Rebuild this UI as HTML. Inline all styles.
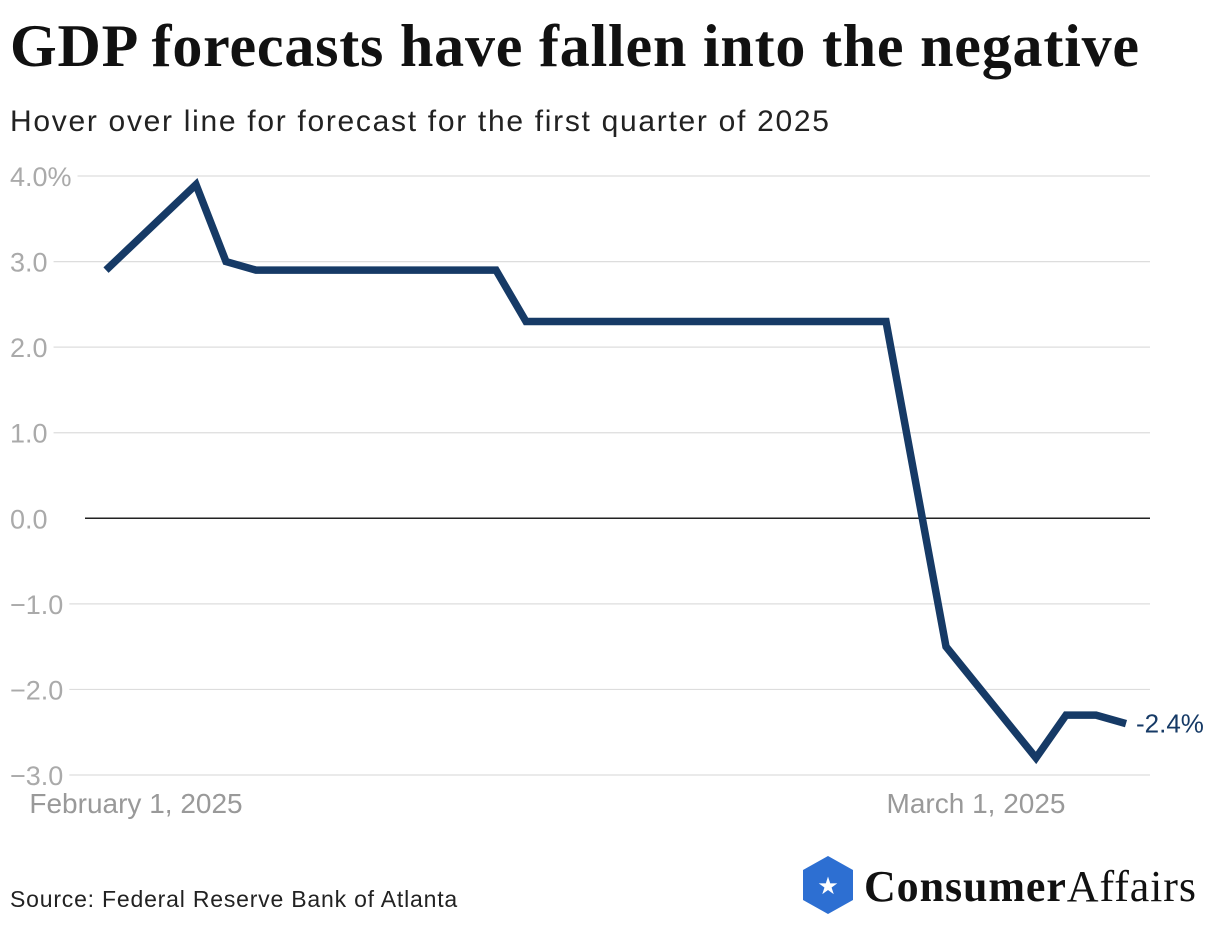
<!DOCTYPE html>
<html><head><meta charset="utf-8"><style>
html,body{margin:0;padding:0;background:#fff;width:1220px;height:926px;overflow:hidden}
.t{position:absolute;left:10px;top:12px;font-family:"Liberation Serif",serif;font-size:60px;color:#111;letter-spacing:0.8px;margin:0;font-weight:bold;white-space:nowrap}
.s{position:absolute;left:10px;top:105px;font-family:"Liberation Sans",sans-serif;font-size:30px;letter-spacing:1.7px;color:#222;white-space:nowrap}
.src{position:absolute;left:10px;top:886px;font-family:"Liberation Sans",sans-serif;font-size:23px;letter-spacing:0.8px;color:#222}
svg{position:absolute;left:0;top:0}
</style></head><body>
<h1 class="t">GDP forecasts have fallen into the negative</h1>
<div class="s">Hover over line for forecast for the first quarter of 2025</div>
<div class="src">Source: Federal Reserve Bank of Atlanta</div>
<svg id="chart" width="1220" height="926"></svg>
<svg width="1220" height="926" style="pointer-events:none">
<polygon points="828,856 853,870 853,900 828,914 803,900 803,870" fill="#2d6fd2"/>
<text x="828" y="894" text-anchor="middle" fill="#fff" font-size="24" font-family="DejaVu Sans">★</text>
<text x="864" y="901" font-family="Liberation Serif,serif" font-size="44" letter-spacing="0.9" fill="#111"><tspan font-weight="bold">Consumer</tspan><tspan>Affairs</tspan></text>
</svg>
<script>
const days=[0,3,4,5,13,14,26,28,31,32,33,34];
const values=[2.9,3.9,3.0,2.9,2.9,2.3,2.3,-1.5,-2.8,-2.3,-2.3,-2.4];
const yTicks=[4,3,2,1,0,-1,-2,-3];
const yTickLabels=["4.0%","3.0","2.0","1.0","0.0","\u22121.0","\u22122.0","\u22123.0"];
const xTickDays=[1,29];
const xTickLabels=["February 1, 2025","March 1, 2025"];
const lastLabel="-2.4%";
const NS="http://www.w3.org/2000/svg";
const svg=document.getElementById('chart');
const x=d=>106+30*d;
const y=v=>518.3-85.57*v;
function mk(t,a){const e=document.createElementNS(NS,t);for(const k in a)e.setAttribute(k,a[k]);svg.appendChild(e);return e;}
yTicks.forEach((v,i)=>{
 const t=mk('text',{x:10,y:y(v)+10,'font-family':'Liberation Sans,sans-serif','font-size':27,fill:'#aaa'});
 t.textContent=yTickLabels[i];
 
 
 const w=t.getComputedTextLength();
 const l=mk('line',{x1:v===0?85:10+w+6,x2:1150,y1:y(v),y2:y(v),stroke:v===0?'#222':'#ddd','stroke-width':v===0?1.5:1.2});
 
 
});
xTickDays.forEach((d,i)=>{
 const t=mk('text',{x:x(d),y:813,'text-anchor':'middle','font-family':'Liberation Sans,sans-serif','font-size':28,fill:'#999'});
 t.textContent=xTickLabels[i];
 
 
});
const p=mk('polyline',{points:days.map((d,i)=>x(d)+','+y(values[i])).join(' '),fill:'none',stroke:'#163a66','stroke-width':7.5,'stroke-linejoin':'miter','stroke-linecap':'butt'});


const n=days.length-1;
const lt=mk('text',{x:x(days[n])+10,y:y(values[n])+9,'font-family':'Liberation Sans,sans-serif','font-size':26,fill:'#163a66'});
lt.textContent=lastLabel;


</script>
</body></html>
